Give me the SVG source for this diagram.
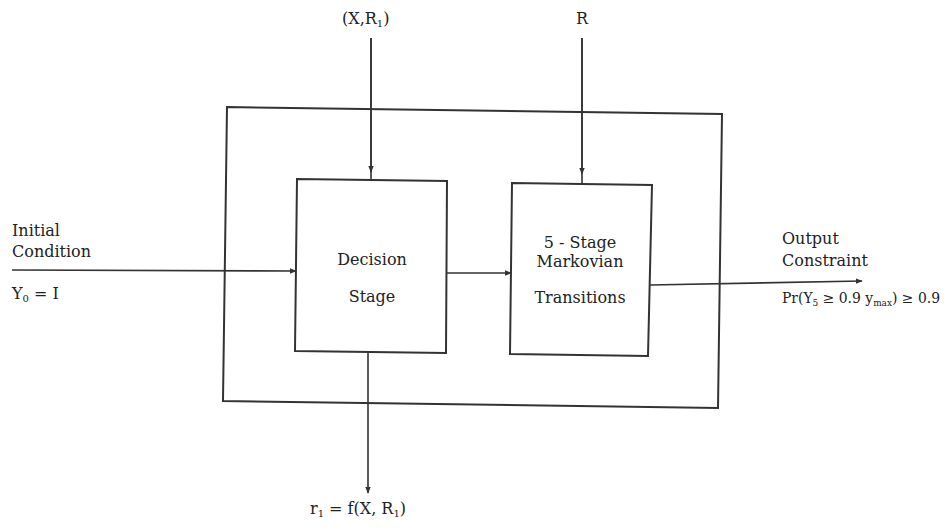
<svg xmlns="http://www.w3.org/2000/svg" width="944" height="529" viewBox="0 0 944 529">
<defs>
<style>
text{font-family:"DejaVu Serif","Liberation Serif",serif;font-size:16px;fill:#222}
.box{fill:none;stroke:#333;stroke-width:2}
.ln{fill:none;stroke:#333;stroke-width:1.6}
.sub{font-size:10px}
.pr{font-size:14px}
.sub2{font-size:9px}
</style>
<marker id="ah" viewBox="0 0 10 10" refX="9" refY="5" markerWidth="7" markerHeight="7" markerUnits="userSpaceOnUse" orient="auto">
<path d="M0,1 L10,5 L0,9 Z" fill="#333"/>
</marker>
</defs>
<rect width="944" height="529" fill="#fff"/>
<g id="system">
<polygon class="box" points="227,107 722,114 718,408 223,401"/>
</g>
<g id="decision">
<polygon class="box" points="297,179 447,181 446,353 295,351"/>
<text x="372" y="265" text-anchor="middle">Decision</text>
<text x="372" y="302" text-anchor="middle">Stage</text>
</g>
<g id="markov">
<polygon class="box" points="512,183 652,185 648,356 510,354"/>
<text x="580" y="248" text-anchor="middle">5 - Stage</text>
<text x="580" y="267" text-anchor="middle">Markovian</text>
<text x="580" y="303" text-anchor="middle">Transitions</text>
</g>
<g id="labels">
<text x="342" y="24">(X,R<tspan class="sub" dy="3">1</tspan><tspan dy="-3">)</tspan></text>
<text x="582" y="24" text-anchor="middle">R</text>
<text x="12" y="236">Initial</text>
<text x="12" y="257">Condition</text>
<text x="12" y="299">Y<tspan class="sub" dy="3">0</tspan><tspan dy="-3"> = I</tspan></text>
<text x="782" y="244">Output</text>
<text x="782" y="266">Constraint</text>
<text class="pr" x="782" y="303" textLength="158" lengthAdjust="spacingAndGlyphs">Pr(Y<tspan class="sub2" dy="3">5</tspan><tspan dy="-3"> ≥ 0.9 y</tspan><tspan class="sub2" dy="3">max</tspan><tspan dy="-3">) ≥ 0.9</tspan></text>
<text x="310" y="514">r<tspan class="sub" dy="3">1</tspan><tspan dy="-3"> = f(X, R</tspan><tspan class="sub" dy="3">1</tspan><tspan dy="-3">)</tspan></text>
</g>
<g id="connectors">
<line class="ln" x1="371" y1="38" x2="371" y2="179"/>
<line class="ln" x1="371" y1="38" x2="371" y2="172" marker-end="url(#ah)"/>
<line class="ln" x1="582" y1="38" x2="582" y2="184"/>
<line class="ln" x1="582" y1="38" x2="582" y2="174" marker-end="url(#ah)"/>
<line class="ln" x1="12" y1="270" x2="296" y2="271" marker-end="url(#ah)"/>
<line class="ln" x1="447" y1="273" x2="511" y2="273" marker-end="url(#ah)"/>
<line class="ln" x1="650" y1="285" x2="862" y2="281" marker-end="url(#ah)"/>
<line class="ln" x1="368" y1="352" x2="368" y2="493" marker-end="url(#ah)"/>
</g>
</svg>
